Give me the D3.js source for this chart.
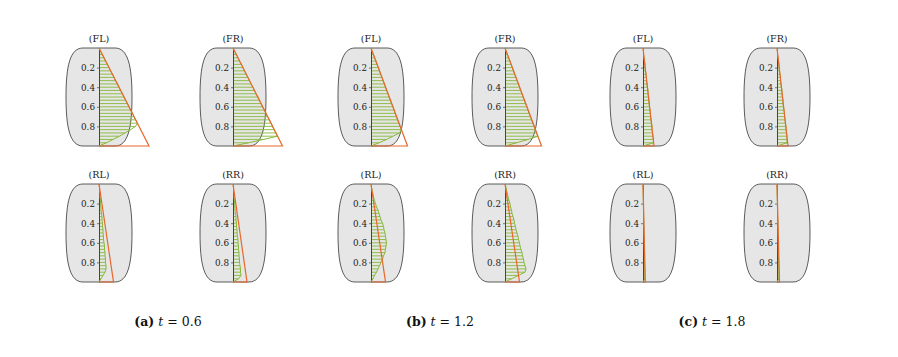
<!DOCTYPE html>
<html>
<head>
<meta charset="utf-8">
<script src="https://cdn.jsdelivr.net/npm/d3@7"></script>
<style>
  html, body { margin: 0; padding: 0; background: #fff; }
  svg { display: block; }
</style>
</head>
<body>
<svg id="fig"></svg>
<script>
// captions
var subLabels = ["(a)", "(b)", "(c)"];
var timeValues = ["0.6", "1.2", "1.8"];
var wheels = ["FL", "FR", "RL", "RR"];
var depthTicks = [0.2, 0.4, 0.6, 0.8];

// positions along the contact patch where the force was sampled (0 = leading edge)
var depth = [0, 0.033, 0.067, 0.1, 0.133, 0.167, 0.2, 0.233, 0.267, 0.3, 0.333,
  0.367, 0.4, 0.433, 0.467, 0.5, 0.533, 0.567, 0.6, 0.633, 0.667,
  0.7, 0.733, 0.767, 0.8, 0.833, 0.867, 0.9, 0.933, 0.967, 1];

// orange: linear (adhesion) deflection, value at trailing edge; order FL, FR, RL, RR
var linearA = [1.00, 0.99, 0.29, 0.28];
var linearB = [0.73, 0.73, 0.29, 0.29];
var linearC = [0.22, 0.22, 0.046, 0.05];

// green: actual force distribution
var forceA_FL = [0, .03, .07, .10, .13, .17, .20, .23, .27, .30, .33, .37, .40, .43, .47, .50, .53, .57, .60, .63, .67, .70, .73, .77, .73, .63, .52, .41, .28, .15, 0];
var forceA_FR = [0, .03, .07, .10, .13, .17, .20, .23, .26, .30, .33, .36, .40, .43, .46, .50, .53, .56, .59, .63, .66, .69, .73, .76, .79, .82, .86, .89, .61, .31, 0];
var forceA_RL = [0, .01, .01, .02, .02, .03, .03, .04, .04, .05, .06, .06, .07, .07, .08, .08, .09, .09, .10, .11, .11, .12, .12, .13, .13, .14, .14, .12, .08, .04, 0];
var forceA_RR = [0, .01, .01, .02, .02, .03, .03, .04, .04, .05, .06, .06, .07, .07, .08, .08, .09, .10, .10, .11, .11, .12, .12, .13, .13, .14, .15, .15, .16, .11, 0];

var forceB_FL = [0, .02, .05, .07, .10, .12, .15, .17, .19, .22, .24, .27, .29, .31, .34, .36, .39, .41, .44, .46, .48, .51, .53, .56, .58, .61, .57, .44, .31, .16, 0];
var forceB_FR = [0, .02, .05, .07, .10, .12, .15, .17, .19, .22, .24, .27, .29, .31, .34, .36, .39, .41, .44, .46, .48, .51, .53, .56, .58, .61, .63, .66, .46, .23, 0];
var forceB_RL = [0, .01, .02, .04, .05, .07, .09, .11, .14, .16, .18, .20, .23, .25, .26, .28, .29, .30, .31, .30, .29, .28, .25, .23, .20, .17, .14, .11, .07, .04, 0];
var forceB_RR = [0, .02, .03, .05, .06, .08, .10, .11, .13, .14, .16, .18, .19, .21, .22, .24, .26, .27, .29, .30, .32, .34, .35, .37, .38, .40, .42, .40, .27, .13, 0];

var forceC_FL = [0, .01, .01, .02, .03, .04, .04, .05, .06, .07, .07, .08, .09, .10, .10, .11, .12, .12, .13, .14, .15, .15, .16, .17, .18, .18, .19, .20, .21, .21, 0];
var forceC_FR = [0, .01, .01, .02, .03, .04, .04, .05, .06, .07, .07, .08, .09, .10, .10, .11, .12, .12, .13, .14, .15, .15, .16, .17, .18, .18, .19, .20, .20, .20, 0];
var forceC_RL = [0, .001, .003, .004, .005, .007, .008, .009, .011, .012, .013, .015, .016, .017, .019, .020, .021, .023, .024, .025, .027, .028, .029, .031, .032, .033, .035, .036, .037, .039, 0];
var forceC_RR = [0, .001, .003, .004, .005, .007, .008, .009, .011, .012, .013, .015, .016, .017, .019, .020, .021, .023, .024, .025, .027, .028, .029, .031, .032, .033, .035, .036, .037, .039, 0];

var linear = [linearA, linearB, linearC];
var force = [
  [forceA_FL, forceA_FR, forceA_RL, forceA_RR],
  [forceB_FL, forceB_FR, forceB_RL, forceB_RR],
  [forceC_FL, forceC_FR, forceC_RL, forceC_RR]
];

var svgWidth = 898, svgHeight = 357;
var groupX0 = 166, groupStep = 272, wheelOffset = 67;
var rowTop = [48, 184], tireHeight = 98;
var halfW = 33;
var orange = "#e9672c", green = "#86b83a";
var serif = "'DejaVu Serif', 'Liberation Serif', serif";

var svg = d3.select("#fig")
  .attr("width", svgWidth)
  .attr("height", svgHeight);

// tyre outline: flat tread edges, bulging sidewalls
function tirePath(cx, top, bottom) {
  var mid = (top + bottom) / 2;
  var p = d3.path();
  p.moveTo(cx - 16, top);
  p.lineTo(cx + 16, top);
  p.bezierCurveTo(cx + 29, top, cx + halfW, top + 18, cx + halfW, mid);
  p.bezierCurveTo(cx + halfW, bottom - 18, cx + 29, bottom, cx + 16, bottom);
  p.lineTo(cx - 16, bottom);
  p.bezierCurveTo(cx - 29, bottom, cx - halfW, bottom - 18, cx - halfW, mid);
  p.bezierCurveTo(cx - halfW, top + 18, cx - 29, top, cx - 16, top);
  p.closePath();
  return p.toString();
}

subLabels.forEach(function (lab, g) {
  var gx = groupX0 + g * groupStep;

  wheels.forEach(function (wheel, w) {
    var row = w < 2 ? 0 : 1;
    var cx = gx + (w % 2 === 0 ? -wheelOffset : wheelOffset);
    var top = rowTop[row], bottom = top + tireHeight;

    var y = d3.scaleLinear().domain([0, 1]).range([top, bottom]);
    var x = d3.scaleLinear().domain([0, 1]).range([cx, cx + 50]);

    var panel = svg.append("g").attr("class", "panel");

    panel.append("path")
      .attr("d", tirePath(cx, top, bottom))
      .attr("fill", "#e6e6e6")
      .attr("stroke", "#333")
      .attr("stroke-width", 0.8);

    panel.append("text")
      .attr("x", cx)
      .attr("y", top - 6)
      .attr("text-anchor", "middle")
      .attr("font-family", serif)
      .attr("font-size", "9.5px")
      .attr("fill", "#1a1a1a")
      .text("(" + wheel + ")");

    var pts = depth.map(function (d, i) { return { y: d, v: force[g][w][i] }; });

    // hatching
    panel.selectAll("line.hatch")
      .data(pts.filter(function (d) { return d.v > 0; }))
      .enter()
      .append("line")
      .attr("class", "hatch")
      .attr("x1", x(0))
      .attr("x2", function (d) { return x(d.v); })
      .attr("y1", function (d) { return y(d.y); })
      .attr("y2", function (d) { return y(d.y); })
      .attr("stroke", green)
      .attr("stroke-width", 0.9);

    var yAxis = d3.axisLeft(y)
      .tickValues(depthTicks)
      .tickFormat(d3.format(".1f"))
      .tickSize(2)
      .tickSizeOuter(0)
      .tickPadding(2);

    var ax = panel.append("g")
      .attr("transform", "translate(" + cx + ",0)")
      .call(yAxis);
    ax.attr("font-family", serif).attr("font-size", "8.8px");
    ax.select(".domain").attr("stroke", "#444").attr("stroke-width", 1);
    ax.selectAll(".tick line").attr("stroke", "#444").attr("stroke-width", 0.7);
    ax.selectAll(".tick text").attr("fill", "#222");

    panel.append("path")
      .datum(pts)
      .attr("d", d3.line().x(function (d) { return x(d.v); }).y(function (d) { return y(d.y); }))
      .attr("fill", "none")
      .attr("stroke", green)
      .attr("stroke-width", 1);

    var b = linear[g][w];
    panel.append("path")
      .datum([[0, 0], [b, 1], [0, 1]])
      .attr("d", d3.line().x(function (d) { return x(d[0]); }).y(function (d) { return y(d[1]); }))
      .attr("fill", "none")
      .attr("stroke", orange)
      .attr("stroke-width", 1.2)
      .attr("stroke-linejoin", "miter");
  });

  var cap = svg.append("text")
    .attr("x", gx + 2)
    .attr("y", 326)
    .attr("text-anchor", "middle")
    .attr("font-family", serif)
    .attr("font-size", "12.5px")
    .attr("fill", "#111");
  cap.append("tspan").attr("font-weight", "bold").text(lab);
  cap.append("tspan").text(" ");
  cap.append("tspan").attr("font-style", "italic").text("t");
  cap.append("tspan").text(" = " + timeValues[g]);
});
</script>
</body>
</html>
